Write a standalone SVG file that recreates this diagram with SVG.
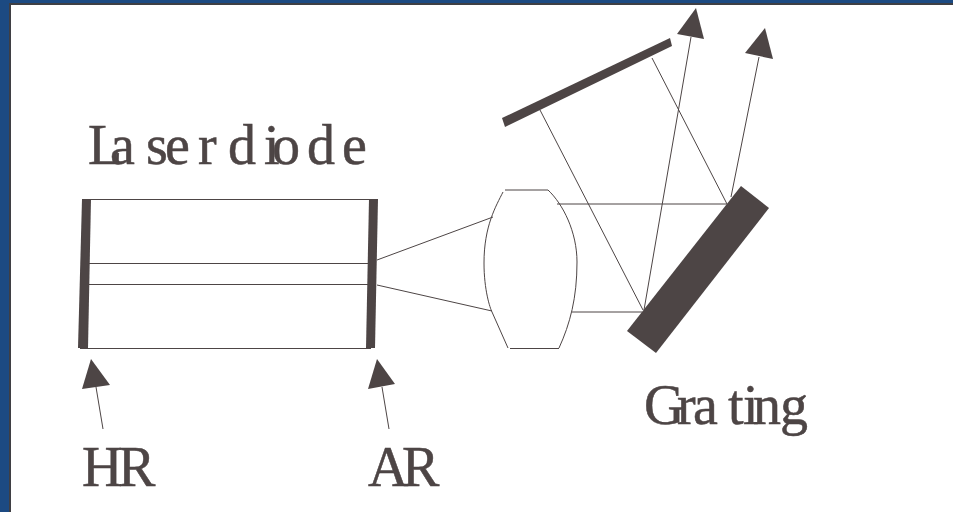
<svg xmlns="http://www.w3.org/2000/svg" width="953" height="512" viewBox="0 0 953 512">
<style>
.s{fill:#4d4545}
.l{fill:none;stroke:#4d4545;stroke-width:1}
.t{font-family:"Liberation Serif",serif;font-size:56px;fill:#4d4545;stroke:#4d4545;stroke-width:.5}
</style>
<rect width="953" height="512" fill="#fff"/>
<path d="M0 0H953V3H9V512H0Z" fill="#1c4a82"/>
<path d="M9 3H953V5H11V512H9Z" fill="#3f3f44"/>
<g id="laser-diode">
<path class="l" d="M82 199.500H378M80 348.500H371M88 263.500H372M88 284.500H372"/>
<path class="s" d="M82 199H91L88 348H78Z"/>
<path class="s" d="M369 199H378L375 348H366Z"/>
<text class="t" x="88 110 146 165 198 220 228 264 272 307 342" y="164">Laser diode</text>
</g>
<g id="lens">
<path class="l" d="M505 190H548M503 192C496 206 484 226 484 263C484 290 490 308 492 312L508 348M510 348.500H559M548 190C563 204 577 232 577 262C577 298 570 324 559 348"/>
</g>
<g id="mirror"><path class="s" d="M670 38L672 46L505 127L502 118Z"/></g>
<g id="grating">
<path class="s" d="M741 186L769 208L656 353L627 331Z"/>
<text class="t" x="644 677 693 728 743 753 780" y="424">Grating</text>
</g>
<g id="hr-label"><text class="t" x="82 118" y="486">HR</text></g>
<g id="ar-label"><text class="t" x="368 402" y="486">AR</text></g>
<g id="connectors">
<path class="l" d="M377 260L493 217M377 285L492 311M557 204H727M572 312H642M540 110L643 310"/>
<path class="l" d="M652 58L727 204M644 310L691 37M731 197L759 57M103 429L96 387M389 429L382 387"/>
<path class="s" d="M696 8L704 39L677 34Z"/>
<path class="s" d="M765 28L773 59L745 53Z"/>
<path class="s" d="M91 359L110 385L82 389Z"/>
<path class="s" d="M377 359L395 384L368 389Z"/>
</g>
</svg>
